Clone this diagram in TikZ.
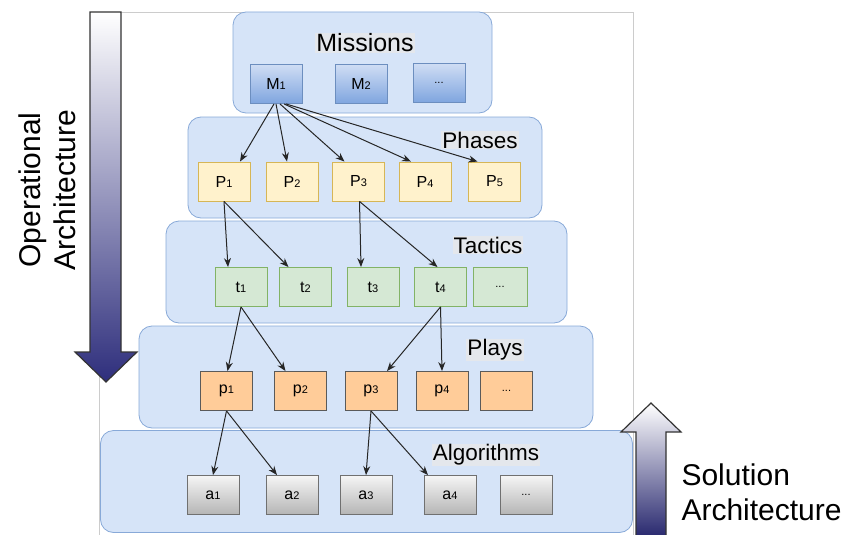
\documentclass[tikz,border=0pt]{standalone}
\usepackage{fontspec}
\setmainfont{Liberation Sans}
\usetikzlibrary{arrows.meta}
\definecolor{layerfill}{HTML}{D6E4F8}
\definecolor{layerline}{HTML}{88A9D8}
\definecolor{missiontop}{HTML}{CFDDF4}
\definecolor{missionbot}{HTML}{7FA5DF}
\definecolor{missionline}{HTML}{6C8EBF}
\definecolor{phasefill}{HTML}{FFF2CC}
\definecolor{phaseline}{HTML}{D6B656}
\definecolor{tacticfill}{HTML}{D5E8D4}
\definecolor{tacticline}{HTML}{82B366}
\definecolor{playfill}{HTML}{FFCC99}
\definecolor{playline}{HTML}{5A5A5A}
\definecolor{algotop}{HTML}{F5F5F5}
\definecolor{algobot}{HTML}{B5B5B5}
\definecolor{algoline}{HTML}{707070}
\definecolor{titlefill}{HTML}{E4E7EC}
\definecolor{navy}{HTML}{2E2E7C}
\newcommand\nidx[1]{{\fontsize{11}{11}\selectfont#1}}
\tikzset{
  layer/.style={draw=layerline, fill=layerfill, rounded corners=13pt, line width=0.8pt, inner sep=0pt},
  box/.style={minimum width=52pt, minimum height=39pt, inner sep=0pt, line width=0.9pt,
    font=\fontsize{16}{16}\selectfont},
  mission/.style={box, draw=missionline, top color=missiontop, bottom color=missionbot},
  phase/.style={box, draw=phaseline, fill=phasefill},
  tactic/.style={box, draw=tacticline, fill=tacticfill},
  play/.style={box, draw=playline, fill=playfill},
  algo/.style={box, draw=algoline, top color=algotop, bottom color=algobot},
  title/.style={fill=titlefill, inner sep=1pt, font=\fontsize{22.5}{22.5}\selectfont},
  link/.style={-{Stealth[length=9pt,width=7pt]}, line width=1pt, draw=black!85},
  bigarrow/.style={draw=black!80, line width=1.2pt},
  side/.style={font=\fontsize{30}{35}\selectfont}
}

\begin{document}
\begin{tikzpicture}[x=1pt, y=-1pt]
\useasboundingbox (0,0) rectangle (848,535);
% Frame
    \draw[black!20, line width=0.6pt] (99,12) rectangle (633,545);
% Layers
    \node[layer, minimum width=532pt, minimum height=102pt] (algorithms) at (366.5,481.5) {};
    \node[layer, minimum width=454pt, minimum height=102pt] (plays) at (366,377) {};
    \node[layer, minimum width=401pt, minimum height=102pt] (tactics) at (366.5,272) {};
    \node[layer, minimum width=354pt, minimum height=101pt] (phases) at (365,167.5) {};
    \node[layer, minimum width=259pt, minimum height=101pt] (missions) at (362.5,62.5) {};
% Layer titles
    \node[title, font=\fontsize{25}{25}\selectfont] (missionstitle) at (365,43) {Missions};
    \node[title] (phasestitle) at (480,140) {Phases};
    \node[title] (tacticstitle) at (488,245) {Tactics};
    \node[title] (playstitle) at (495,350) {Plays};
    \node[title] (algorithmstitle) at (486,455) {Algorithms};
% Missions
    \node[mission] (M1) at (276,84) {M\nidx{1}};
    \node[mission] (M2) at (361,84) {M\nidx{2}};
    \node[mission] (Mx) at (439,83) {\nidx{...}};
% Phases
    \node[phase] (P1) at (224,181.5) {P\nidx{1}};
    \node[phase] (P2) at (292,181.5) {P\nidx{2}};
    \node[phase] (P3) at (358.5,181.5) {P\nidx{3}};
    \node[phase] (P4) at (425,181.5) {P\nidx{4}};
    \node[phase] (P5) at (494.5,181.5) {P\nidx{5}};
% Tactics
    \node[tactic] (t1) at (241,287) {t\nidx{1}};
    \node[tactic] (t2) at (305.5,287) {t\nidx{2}};
    \node[tactic] (t3) at (373,287) {t\nidx{3}};
    \node[tactic] (t4) at (440.5,287) {t\nidx{4}};
    \node[tactic, minimum width=54pt] (tx) at (500,287) {\nidx{...}};
% Plays
    \node[play] (p1) at (226.5,391) {p\nidx{1}};
    \node[play] (p2) at (300.5,391) {p\nidx{2}};
    \node[play] (p3) at (371,391) {p\nidx{3}};
    \node[play] (p4) at (442,391) {p\nidx{4}};
    \node[play] (px) at (506.5,391) {\nidx{...}};
% Algorithms
    \node[algo] (a1) at (213,495) {a\nidx{1}};
    \node[algo] (a2) at (292,495) {a\nidx{2}};
    \node[algo] (a3) at (366,495) {a\nidx{3}};
    \node[algo] (a4) at (450,495) {a\nidx{4}};
    \node[algo] (ax) at (526,495) {\nidx{...}};
% Links
    \draw[link] ([xshift=-2pt]M1.south) -- ([xshift=16pt]P1.north);
    \draw[link] (M1.south) -- ([xshift=-5pt]P2.north);
    \draw[link] ([xshift=4pt]M1.south) -- ([xshift=-14pt]P3.north);
    \draw[link] ([xshift=8pt]M1.south) -- ([xshift=-14pt]P4.north);
    \draw[link] ([xshift=10pt]M1.south) -- ([xshift=-17pt]P5.north);
    \draw[link] (P1.south) -- ([xshift=-13pt]t1.north);
    \draw[link] (P1.south) -- ([xshift=-17pt]t2.north);
    \draw[link] ([xshift=1pt]P3.south) -- ([xshift=-12pt]t3.north);
    \draw[link] ([xshift=1pt]P3.south) -- ([xshift=-3pt]t4.north);
    \draw[link] (t1.south) -- ([xshift=1pt]p1.north);
    \draw[link] (t1.south) -- ([xshift=-15pt]p2.north);
    \draw[link] (t4.south) -- ([xshift=16pt]p3.north);
    \draw[link] (t4.south) -- (p4.north);
    \draw[link] (p1.south) -- (a1.north);
    \draw[link] (p1.south) -- ([xshift=-15pt]a2.north);
    \draw[link] (p3.south) -- (a3.north);
    \draw[link] (p3.south) -- ([xshift=-22pt]a4.north);
% Big arrows
    \draw[bigarrow, top color=white, bottom color=navy]
        (90,12) -- (121,12) -- (121,352) -- (137,352) -- (106,382) -- (75,352) -- (90,352) -- cycle;
    \draw[bigarrow, top color=white, bottom color=navy!90!black]
        (636,536) -- (636,432) -- (621,432) -- (651,403) -- (681,432) -- (666,432) -- (666,536);
% Side texts
    \node[side, rotate=90, align=center] (operational) at (47,190) {Operational\\Architecture};
    \node[side, align=left, anchor=west] (solution) at (678,492) {Solution\\Architecture};
\end{tikzpicture}
\end{document}
